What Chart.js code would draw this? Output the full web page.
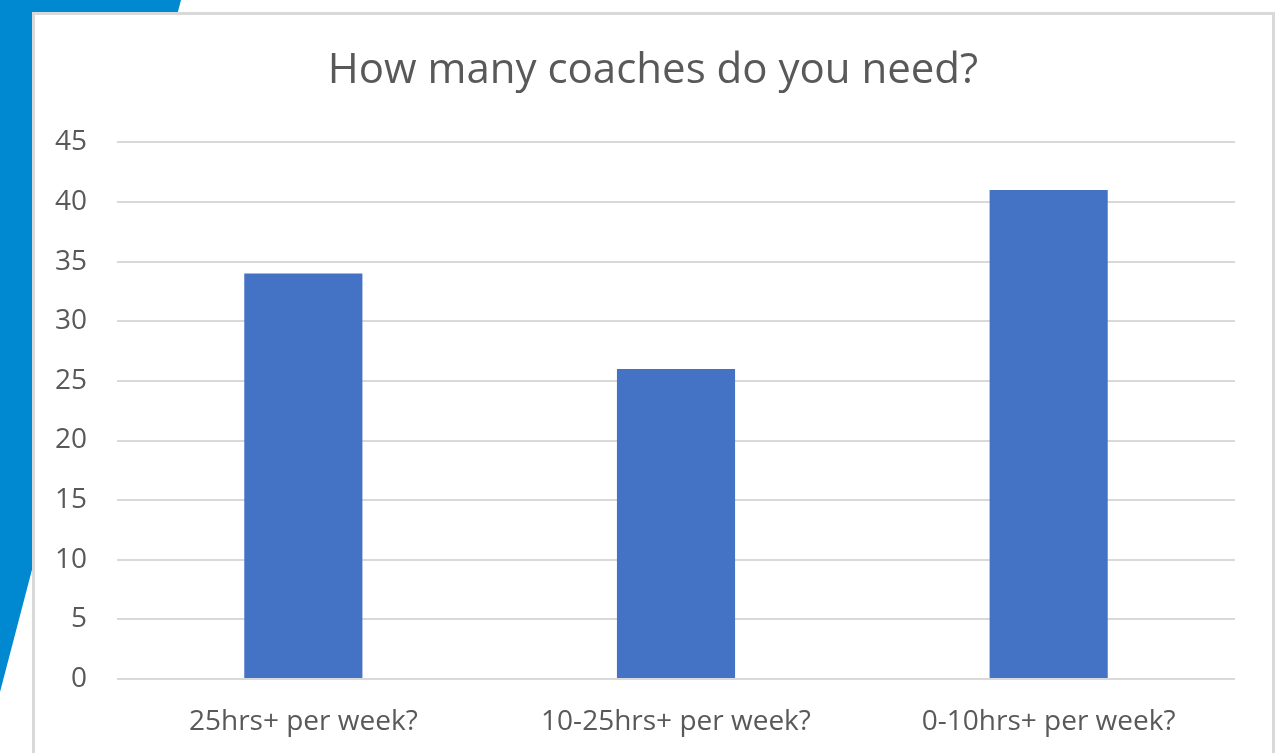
<!DOCTYPE html>
<html>
<head>
<meta charset="utf-8">
<script src="https://cdn.jsdelivr.net/npm/chart.js@4"></script>
<style>
    html, body { margin: 0; padding: 0; background: #ffffff; overflow: hidden; }
    #stage { position: relative; width: 1275px; height: 753px; overflow: hidden; }
    #accent {
        position: absolute; left: 0; top: 0; width: 200px; height: 753px;
        background: #0088d1;
        clip-path: polygon(0 0, 181px 0, 0 692px);
    }
    #frame {
        position: absolute; left: 32px; top: 12px; width: 1237px; height: 760px;
        border: 3px solid #d9d9d9; background: #ffffff;
    }
    /* canvas runs past the right edge so the title centres on the frame */
    #chartWrap { position: absolute; left: 0; top: 0; width: 1306px; height: 753px; }
</style>
</head>
<body>
<div id="stage">
    <div id="accent"></div>
    <div id="frame"></div>
    <div id="chartWrap"><canvas id="coachChart"></canvas></div>
</div>
<script>
const categories = ['25hrs+ per week?', '10-25hrs+ per week?', '0-10hrs+ per week?'];
const coachCounts = [34, 26, 41];
const yTicks = [0, 5, 10, 15, 20, 25, 30, 35, 40, 45];

const textColor = '#595959';
const gridColor = '#d9d9d9';

const ctx = document.getElementById('coachChart').getContext('2d');

new Chart(ctx, {
    type: 'bar',
    data: {
        labels: categories,
        datasets: [{
            label: 'Coaches',
            data: coachCounts,
            backgroundColor: '#4472c4',
            borderWidth: 0,
            categoryPercentage: 1,
            barPercentage: 0.317
        }]
    },
    options: {
        responsive: true,
        maintainAspectRatio: false,
        animation: false,
        layout: {
            padding: 0
        },
        plugins: {
            legend: { display: false },
            tooltip: { enabled: false },
            title: {
                display: true,
                text: 'How many coaches do you need?',
                color: textColor,
                font: { family: 'Open Sans', size: 42, weight: 'normal' },
                padding: { top: 46, bottom: 46 }
            }
        },
        scales: {
            y: {
                min: 0,
                max: 45,
                afterFit: scale => { scale.width = 117; },
                afterBuildTicks: scale => { scale.ticks = yTicks.map(v => ({ value: v })); },
                border: { display: false },
                grid: { color: gridColor, lineWidth: 2, drawTicks: false },
                ticks: {
                    color: textColor,
                    padding: 30,
                    font: { family: 'Open Sans', size: 28 }
                }
            },
            // empty spacer on the right
            ySpacer: {
                position: 'right',
                min: 0,
                max: 45,
                afterFit: scale => { scale.width = 71; },
                border: { display: false },
                grid: { display: false, drawOnChartArea: false },
                ticks: { display: false }
            },
            x: {
                afterFit: scale => { scale.height = 74; },
                border: { display: false },
                grid: { display: false },
                ticks: {
                    color: textColor,
                    padding: 18,
                    maxRotation: 0,
                    font: { family: 'Open Sans', size: 28 }
                }
            }
        }
    }
});
</script>
</body>
</html>
